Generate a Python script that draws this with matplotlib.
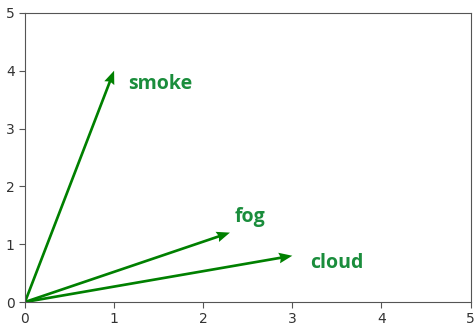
import matplotlib
matplotlib.use("Agg")
import matplotlib.pyplot as plt
import numpy as np

# word vectors drawn from the origin
words = ["smoke", "fog", "cloud"]
vec_x = [1.0, 2.3, 3.0]
vec_y = [4.0, 1.2, 0.8]
label_x = [1.16, 2.35, 3.2]
label_y = [3.77, 1.47, 0.67]

ARROW = "#008000"
TEXT = "#1a8d3c"

fig = plt.figure(figsize=(4.76, 3.26), dpi=100)
ax = fig.add_axes([0.0525, 0.0736, 0.936, 0.887])

ax.quiver(np.zeros(len(words)), np.zeros(len(words)), vec_x, vec_y,
          angles="xy", scale_units="xy", scale=1, color=ARROW,
          width=0.006, headwidth=4, headlength=5, headaxislength=4.5)

for w, tx, ty in zip(words, label_x, label_y):
    ax.text(tx, ty, w, color=TEXT, fontsize=14, fontweight="bold",
            family="Open Sans", ha="left", va="center")

ax.set_xlim(0, 5)
ax.set_ylim(0, 5)
ax.set_xticks(range(6))
ax.set_yticks(range(6))
for s in ax.spines.values():
    s.set_color("#555555")
ax.tick_params(colors="#333333", labelsize=10, length=4)
ax.tick_params(axis="both", color="#555555")

fig.savefig("out.png", dpi=100)
